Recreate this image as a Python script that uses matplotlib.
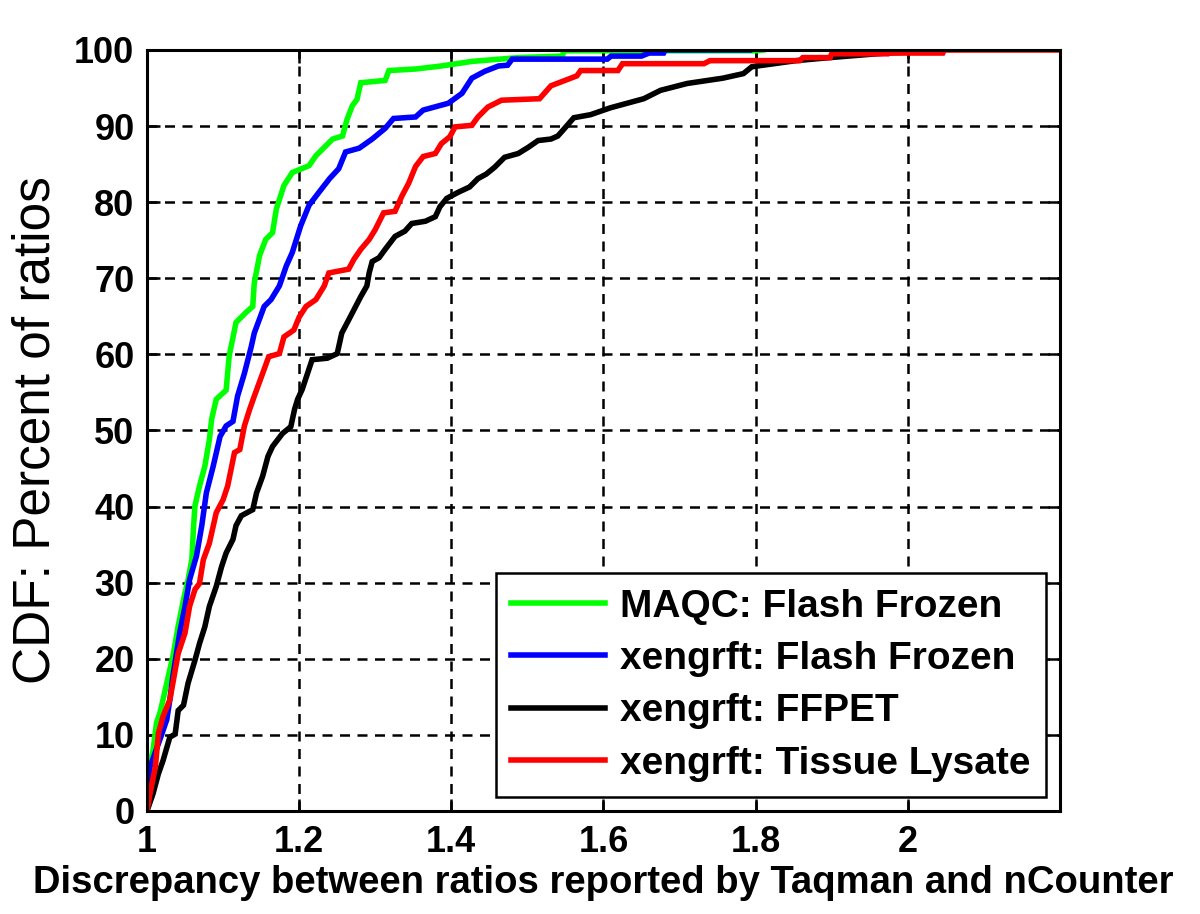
import matplotlib
matplotlib.use("Agg")
import matplotlib.pyplot as plt

maqc_ff_x = [1.0, 1.0, 1.008, 1.0125, 1.017, 1.021, 1.028, 1.034, 1.041, 1.048, 1.054, 1.059,
             1.061, 1.063, 1.069, 1.076, 1.082, 1.085, 1.091, 1.104, 1.108, 1.117, 1.130, 1.139,
             1.141, 1.148, 1.156, 1.165, 1.170, 1.180, 1.191, 1.213, 1.222, 1.244, 1.257, 1.263,
             1.270, 1.276, 1.281, 1.313, 1.318, 1.353, 1.387, 1.427, 1.488, 1.546, 1.548, 1.801, 1.81]
maqc_ff_y = [0, 4.5, 8, 11.6, 12.9, 14.6, 17.7, 20.3, 24.3, 27.8, 30.4, 33.1,
             37, 40.1, 42.7, 45.3, 48.8, 51.5, 54.1, 55.3, 59.8, 64.2, 65.5, 66.3,
             69.4, 73, 75.1, 76, 79.1, 82.2, 83.9, 84.8, 86.1, 88.3, 88.7, 90.9,
             92.7, 93.5, 95.7, 96, 97.3, 97.5, 97.9, 98.5, 99.0, 99.2, 99.9, 99.9, 100]

xeno_ff_x = [1.0, 1.0, 1.004, 1.017, 1.026, 1.030, 1.034, 1.043, 1.050, 1.056, 1.065, 1.072,
             1.078, 1.087, 1.096, 1.104, 1.113, 1.119, 1.128, 1.137, 1.141, 1.154, 1.163, 1.174,
             1.183, 1.191, 1.202, 1.213, 1.226, 1.240, 1.252, 1.261, 1.279, 1.296, 1.313, 1.324,
             1.353, 1.363, 1.396, 1.414, 1.427, 1.444, 1.462, 1.474, 1.48, 1.605, 1.61, 1.65,
             1.66, 1.679, 1.681, 1.792]
xeno_ff_y = [0, 3.2, 5.8, 9.4, 12, 14.6, 17.7, 23.4, 26.9, 30.4, 33.5, 37.5,
             41.8, 45.3, 49.2, 50.6, 51.2, 54.5, 57.5, 61, 62.8, 66.3, 67.2, 69,
             71.6, 73.4, 76.9, 79.6, 81.3, 83.1, 84.4, 86.6, 87.1, 88.3, 89.7, 91.0,
             91.2, 92.1, 93.0, 94.3, 96.3, 97.2, 97.9, 98.0, 98.8, 98.8, 99.2, 99.2,
             99.6, 99.6, 100, 100]

ffpet_x = [1.0, 1.008, 1.015, 1.021, 1.030, 1.037, 1.041, 1.048, 1.054, 1.063, 1.069, 1.076,
           1.082, 1.091, 1.098, 1.104, 1.113, 1.117, 1.124, 1.139, 1.144, 1.152, 1.159, 1.165,
           1.178, 1.189, 1.194, 1.198, 1.204, 1.217, 1.237, 1.250, 1.256, 1.267, 1.281, 1.289,
           1.292, 1.296, 1.305, 1.313, 1.326, 1.339, 1.348, 1.366, 1.379, 1.385, 1.394, 1.409,
           1.424, 1.435, 1.446, 1.457, 1.470, 1.488, 1.501, 1.514, 1.531, 1.540, 1.548, 1.561,
           1.583, 1.609, 1.653, 1.675, 1.710, 1.757, 1.784, 1.795, 1.853, 1.897, 1.971, 2.043, 2.045]
ffpet_y = [0, 2.3, 4.9, 6.6, 9.7, 10.1, 13.2, 13.9, 16.8, 19.8, 22, 24.2,
           26.9, 29.5, 32.1, 33.9, 35.7, 37.5, 38.8, 39.6, 41.8, 44, 46.6, 47.9,
           49.6, 50.5, 52.8, 54.1, 55.4, 59.3, 59.5, 60.1, 62.8, 64.9, 67.6, 69,
           70.7, 72.2, 72.7, 73.8, 75.5, 76.2, 77.2, 77.5, 78.1, 79.4, 80.5, 81.3,
           82.0, 83.1, 83.7, 84.6, 85.9, 86.4, 87.2, 88.1, 88.3, 88.7, 89.6, 91.1,
           91.5, 92.4, 93.6, 94.7, 95.6, 96.3, 96.9, 97.8, 98.6, 99.0, 99.6, 99.9, 100]

lysate_x = [1.0, 1.004, 1.011, 1.015, 1.021, 1.030, 1.034, 1.041, 1.050, 1.056, 1.063, 1.069,
            1.074, 1.082, 1.091, 1.100, 1.106, 1.115, 1.122, 1.128, 1.135, 1.141, 1.152, 1.160,
            1.174, 1.180, 1.193, 1.200, 1.209, 1.222, 1.233, 1.239, 1.265, 1.272, 1.281, 1.292,
            1.300, 1.311, 1.326, 1.335, 1.344, 1.353, 1.363, 1.379, 1.387, 1.398, 1.405, 1.427,
            1.435, 1.448, 1.466, 1.516, 1.531, 1.565, 1.570, 1.619, 1.625, 1.732, 1.74, 1.858,
            1.862, 1.898, 1.90, 1.974, 1.976, 2.046, 2.048, 2.2]
lysate_y = [0, 2.3, 5.8, 10.2, 12.4, 14.6, 16.8, 20.7, 23.4, 26.9, 29.1, 29.9,
            33, 35.2, 39.2, 40.9, 42.7, 47.1, 47.5, 50.6, 52.8, 54.5, 57.5, 59.7,
            60.1, 62.3, 63.2, 64.9, 66.3, 67.2, 69, 70.7, 71.2, 72.5, 73.8, 75.1,
            76.4, 78.6, 78.8, 80.8, 82.5, 84.7, 86.0, 86.4, 87.7, 88.6, 89.9, 90.1,
            91.2, 92.5, 93.4, 93.6, 95.3, 96.6, 97.3, 97.3, 98.2, 98.2, 98.6, 98.6,
            99.0, 99.0, 99.5, 99.5, 99.6, 99.6, 100, 100]

labels = ['MAQC: Flash Frozen', 'xengrft: Flash Frozen', 'xengrft: FFPET', 'xengrft: Tissue Lysate']
colors = ['#00ff00', '#0000ff', '#000000', '#ff0000']

x_ticks = [1, 1.2, 1.4, 1.6, 1.8, 2]
x_tick_labels = ['1', '1.2', '1.4', '1.6', '1.8', '2']
y_ticks = list(range(0, 101, 10))

plt.rcParams['font.family'] = ['Liberation Sans', 'DejaVu Sans']

fig = plt.figure(figsize=(12, 9.14), dpi=100)
ax = fig.add_axes([0.1225, 0.1127, 0.7608, 0.8326])

series = [(maqc_ff_x, maqc_ff_y), (xeno_ff_x, xeno_ff_y), (ffpet_x, ffpet_y), (lysate_x, lysate_y)]
for (xs, ys), c, lab in zip(series, colors, labels):
    ax.plot(xs, ys, color=c, lw=4, label=lab, solid_joinstyle='miter')

ax.set_xlim(1, 2.2)
ax.set_ylim(0, 100)
ax.set_xticks(x_ticks)
ax.set_xticklabels(x_tick_labels)
ax.set_yticks(y_ticks)

ax.grid(True, color='black', linestyle=(0, (4, 3)), linewidth=1.8)
ax.tick_params(direction='in', length=9, width=1.8, top=True, right=True, labelsize=26)
ax.tick_params(axis='x', pad=10)
ax.tick_params(axis='y', pad=9)
for lbl in ax.get_xticklabels() + ax.get_yticklabels():
    lbl.set_fontweight('bold')
for s in ax.spines.values():
    s.set_linewidth(2.2)

ax.set_xlabel('Discrepancy between ratios reported by Taqman and nCounter',
              fontsize=27.5, fontweight='bold', labelpad=4)
ax.set_ylabel('CDF: Percent of ratios', fontsize=37, labelpad=10)

leg = ax.legend(loc='lower right', bbox_to_anchor=(0.985, 0.018), borderaxespad=0,
                fancybox=False, edgecolor='black', framealpha=1, handlelength=2.4,
                prop={'size': 28, 'weight': 'bold'}, labelspacing=0.42,
                borderpad=0.4, handletextpad=0.4)
leg.get_frame().set_linewidth(1.8)
for line in leg.get_lines():
    line.set_linewidth(4)

plt.savefig('out.png', dpi=100)
